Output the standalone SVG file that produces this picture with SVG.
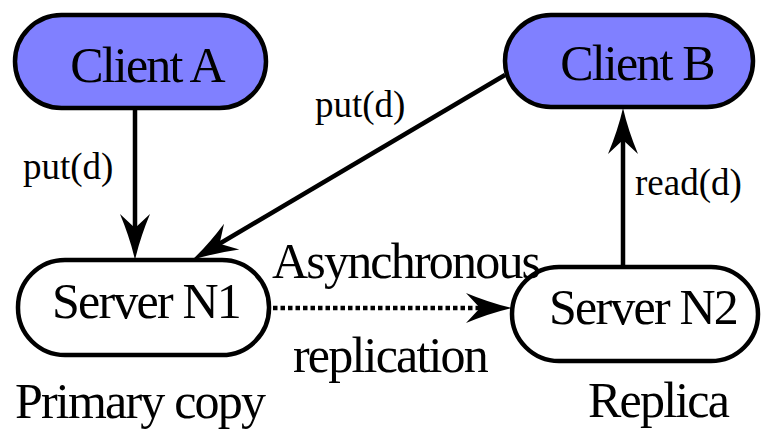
<svg xmlns="http://www.w3.org/2000/svg" width="761" height="430" viewBox="0 0 761 430" font-family="Liberation Serif, serif">
<style>
.node{stroke:#000;stroke-width:4.5}
.client{fill:#8080ff}
.server{fill:#fff}
.edge{stroke:#000;stroke-width:4.5;fill:none}
.dot{stroke-dasharray:4.5 3}
</style>
<defs>
<marker id="arr" markerUnits="userSpaceOnUse" orient="auto" refX="0" refY="0" markerWidth="70" markerHeight="40" viewBox="-35 -20 70 40" overflow="visible">
<path d="M22,0 Q0,-5 -24,-15 L-10,0 L-24,15 Q0,5 22,0 Z" fill="#000"/>
</marker>
</defs>
<g id="clientA"><rect class="node client" x="15" y="15" width="251" height="93" rx="46.5"/><text font-size="50" letter-spacing="-1.8" x="147" y="82" text-anchor="middle">Client A</text></g>
<g id="clientB"><rect class="node client" x="505" y="15" width="248" height="92" rx="46"/><text font-size="50" letter-spacing="-1.8" x="637" y="80" text-anchor="middle">Client B</text></g>
<g id="serverN1"><rect class="node server" x="18" y="260" width="251" height="95" rx="47"/><text font-size="50" letter-spacing="-1.8" x="146" y="318" text-anchor="middle">Server N1</text><text font-size="50" letter-spacing="-1.8" x="15" y="418">Primary copy</text></g>
<g id="serverN2"><rect class="node server" x="512" y="267" width="246" height="94" rx="47"/><text font-size="50" letter-spacing="-1.8" x="643" y="324" text-anchor="middle">Server N2</text><text font-size="50" letter-spacing="-1.8" x="588" y="417">Replica</text></g>
<g id="connectors">
<line class="edge" x1="135" y1="108" x2="135" y2="238" marker-end="url(#arr)"/>
<line class="edge" x1="505" y1="75" x2="211" y2="248.8" marker-end="url(#arr)"/>
<line class="edge" x1="623" y1="267" x2="623" y2="130" marker-end="url(#arr)"/>
<line class="edge dot" x1="273" y1="308" x2="490" y2="308" marker-end="url(#arr)"/>
<text font-size="37" x="23" y="179">put(d)</text>
<text font-size="37" x="315" y="117">put(d)</text>
<text font-size="37" x="635" y="195">read(d)</text>
<text font-size="50" letter-spacing="-1.8" x="272" y="278">Asynchronous</text>
<text font-size="50" letter-spacing="-1.8" x="293" y="372">replication</text>
</g>
</svg>
